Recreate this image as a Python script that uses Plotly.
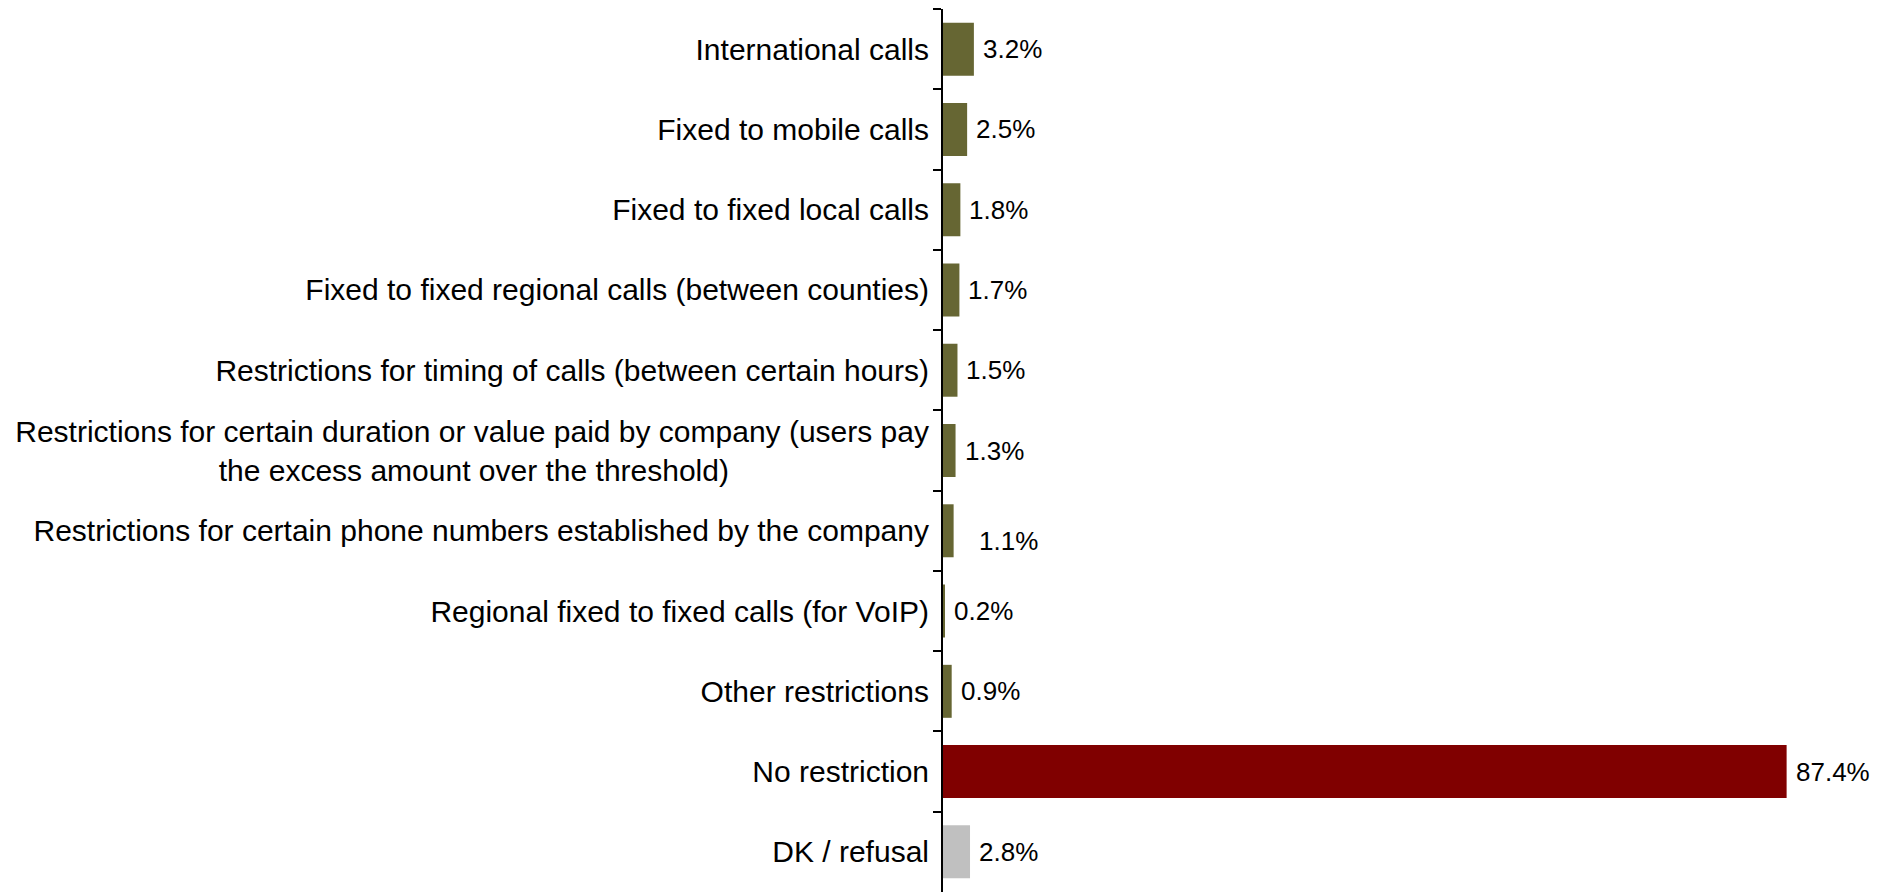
import plotly.graph_objects as go

# Survey categories (top to bottom) and shares in percent
categories = [
    "International calls",
    "Fixed to mobile calls",
    "Fixed to fixed local calls",
    "Fixed to fixed regional calls (between counties)",
    "Restrictions for timing of calls (between certain hours)",
    "Restrictions for certain duration or value paid by company (users pay<br>the excess amount over the threshold)" + "\u00a0" * 24,
    "Restrictions for certain phone numbers established by the company",
    "Regional fixed to fixed calls (for VoIP)",
    "Other restrictions",
    "No restriction",
    "DK / refusal",
]
values = [3.2, 2.5, 1.8, 1.7, 1.5, 1.3, 1.1, 0.2, 0.9, 87.4, 2.8]
value_labels = ["3.2%", "2.5%", "1.8%", "1.7%", "1.5%", "1.3%", "1.1%", "0.2%", "0.9%", "87.4%", "2.8%"]

OLIVE = "#666633"
DARK_RED = "#800000"
GREY = "#C0C0C0"
bar_colors = [OLIVE] * 9 + [DARK_RED, GREY]

FONT = "Liberation Sans, Arial, sans-serif"
TICK_FS = 30
VALUE_FS = 26

fig = go.Figure(
    go.Bar(
        x=values,
        y=categories,
        orientation="h",
        marker=dict(color=bar_colors, line=dict(width=0)),
        width=0.66,
        hoverinfo="skip",
    )
)

# Value labels placed just to the right of each bar
for cat, val, lab in zip(categories, values, value_labels):
    xshift, yshift = 7, 0
    if lab == "1.1%":
        xshift, yshift = 23, -10
    fig.add_annotation(
        x=val, y=cat, text=lab, showarrow=False,
        xanchor="left", yanchor="middle",
        xshift=xshift, yshift=yshift,
        font=dict(family=FONT, size=VALUE_FS, color="black"),
    )

fig.update_layout(
    width=1887, height=892,
    margin=dict(l=943, r=0, t=9, b=0, pad=0),
    paper_bgcolor="white", plot_bgcolor="white",
    showlegend=False,
    font=dict(family=FONT, size=VALUE_FS, color="black"),
    bargap=0.34,
)
fig.update_xaxes(
    range=[0, 97.8], visible=False, showgrid=False, zeroline=False,
)
fig.update_yaxes(
    type="category",
    categoryorder="array", categoryarray=categories,
    autorange="reversed",
    showline=True, linecolor="black", linewidth=2,
    ticks="outside", ticklen=8, tickwidth=2, tickcolor="black",
    tickson="boundaries",
    ticklabelstandoff=6,
    showgrid=False, zeroline=False,
    tickfont=dict(family=FONT, size=TICK_FS, color="black"),
)

fig.write_html("out.html")
